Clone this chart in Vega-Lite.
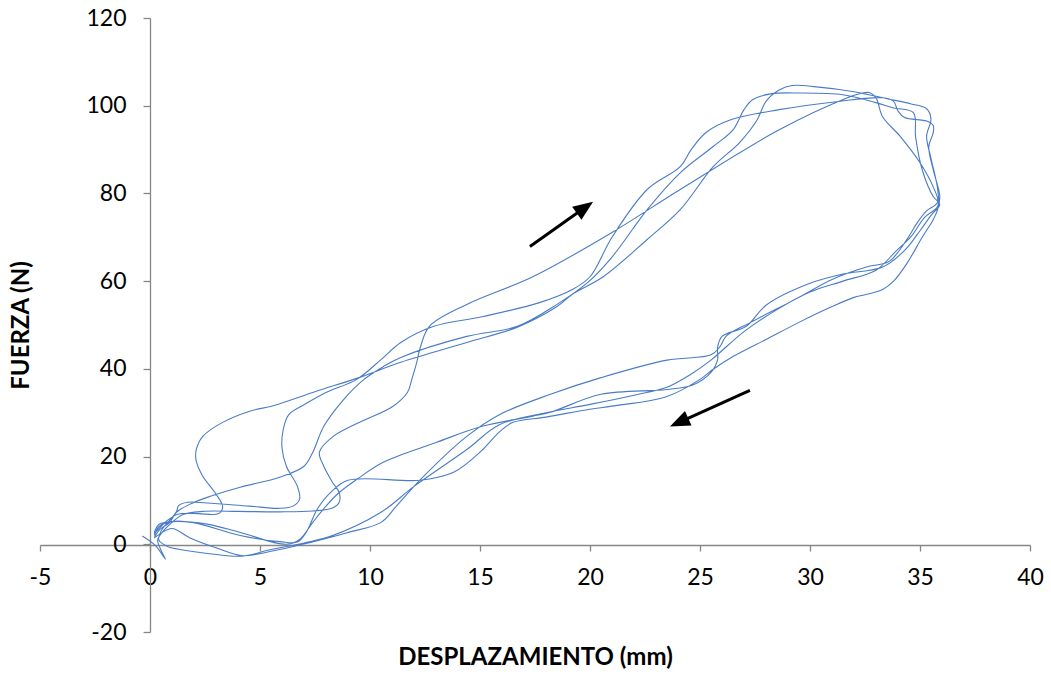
{
  "$schema": "https://vega.github.io/schema/vega-lite/v6.json",
  "width": 990,
  "height": 614,
  "autosize": {"type": "none"},
  "padding": {"left": 40, "top": 18, "right": 21, "bottom": 43},
  "background": "white",
  "config": {"view": {"stroke": null}},
  "datasets": {
    "curve": [
      {"i":1,"x":-0.35,"y":1.9},{"i":2,"x":0.25,"y":-0.3},{"i":3,"x":0.7,"y":-3.4},{"i":4,"x":0.45,"y":-0.8},{"i":5,"x":0.35,"y":1.0},
      {"i":6,"x":0.6,"y":3.0},{"i":7,"x":1.0,"y":5.0},{"i":8,"x":1.5,"y":6.8},{"i":9,"x":2.4,"y":7.5},{"i":10,"x":4.0,"y":7.5},{"i":11,"x":5.9,"y":7.4},{"i":12,"x":7.4,"y":7.6},{"i":13,"x":8.3,"y":8.3},{"i":14,"x":8.6,"y":9.6},{"i":15,"x":8.6,"y":11.8},{"i":16,"x":8.3,"y":14.1},{"i":17,"x":7.9,"y":17.8},{"i":18,"x":7.7,"y":21},{"i":19,"x":8.3,"y":24.5},{"i":20,"x":9.6,"y":28},{"i":21,"x":11.0,"y":31.3},{"i":22,"x":11.7,"y":34.6},{"i":23,"x":11.9,"y":37.6},{"i":24,"x":12.1,"y":41},{"i":25,"x":12.3,"y":45.1},{"i":26,"x":12.7,"y":49.7},{"i":27,"x":14.4,"y":54.7},{"i":28,"x":17.4,"y":61},{"i":29,"x":21,"y":71.1},{"i":30,"x":24.1,"y":80.9},{"i":31,"x":28.6,"y":94.5},{"i":32,"x":31.7,"y":101.8},{"i":33,"x":32.3,"y":102.8},{"i":34,"x":32.7,"y":103},{"i":35,"x":33.0,"y":101.8},{"i":36,"x":33.3,"y":97.5},{"i":37,"x":34.1,"y":93},{"i":38,"x":35,"y":87},{"i":39,"x":35.6,"y":81.5},{"i":40,"x":35.8,"y":78},
      {"i":41,"x":35.3,"y":76},{"i":42,"x":34.9,"y":73.5},{"i":43,"x":34.4,"y":69.5},{"i":44,"x":33.6,"y":64.5},{"i":45,"x":32.6,"y":63.3},{"i":46,"x":31,"y":60.4},{"i":47,"x":29.5,"y":56.3},{"i":48,"x":27.3,"y":50.6},{"i":49,"x":26.2,"y":47.5},{"i":50,"x":25.9,"y":45},{"i":51,"x":25.5,"y":43.2},{"i":52,"x":23.5,"y":42},{"i":53,"x":20.5,"y":38},{"i":54,"x":18.2,"y":34.2},{"i":55,"x":15.9,"y":29.6},{"i":56,"x":14.4,"y":24.6},{"i":57,"x":12.3,"y":14.8},{"i":58,"x":11.2,"y":8.7},{"i":59,"x":10.5,"y":5},{"i":60,"x":9,"y":2.7},{"i":61,"x":7.6,"y":0.8},{"i":62,"x":6.6,"y":-0.4},{"i":63,"x":5.5,"y":-1.6},{"i":64,"x":4.2,"y":-2.6},{"i":65,"x":3,"y":-0.8},{"i":66,"x":1.8,"y":1.5},{"i":67,"x":1.0,"y":3.6},{"i":68,"x":0.4,"y":2.2},
      {"i":69,"x":0.2,"y":1.5},{"i":70,"x":0.45,"y":3.4},{"i":71,"x":0.9,"y":5},{"i":72,"x":1.2,"y":7.3},{"i":73,"x":1.8,"y":9.1},{"i":74,"x":2.6,"y":10.7},{"i":75,"x":4.1,"y":13},{"i":76,"x":5.9,"y":15.3},{"i":77,"x":7.0,"y":17.8},{"i":78,"x":7.4,"y":21},{"i":79,"x":7.9,"y":26.9},{"i":80,"x":8.8,"y":33},{"i":81,"x":9.7,"y":37.5},{"i":82,"x":10.6,"y":40.5},{"i":83,"x":11.4,"y":42.6},{"i":84,"x":14.4,"y":47.4},{"i":85,"x":16.7,"y":49.7},{"i":86,"x":18.5,"y":54.7},{"i":87,"x":19.9,"y":59.7},{"i":88,"x":21,"y":65.5},{"i":89,"x":22.6,"y":76.3},{"i":90,"x":24.1,"y":84.7},{"i":91,"x":25.6,"y":90.7},{"i":92,"x":26.5,"y":94.5},{"i":93,"x":27,"y":99.1},{"i":94,"x":27.4,"y":101.4},{"i":95,"x":28.2,"y":102.7},{"i":96,"x":29.5,"y":102.9},{"i":97,"x":31.5,"y":102.5},{"i":98,"x":33,"y":100.7},{"i":99,"x":33.8,"y":99.5},{"i":100,"x":34.7,"y":98.4},{"i":101,"x":34.8,"y":92.9},{"i":102,"x":35.1,"y":85.4},{"i":103,"x":35.6,"y":79.3},{"i":104,"x":35.9,"y":77.5},
      {"i":105,"x":35.5,"y":75},{"i":106,"x":35,"y":71.5},{"i":107,"x":34.3,"y":67},{"i":108,"x":33.3,"y":63.2},{"i":109,"x":31.5,"y":61.6},{"i":110,"x":30,"y":59.5},{"i":111,"x":28,"y":54.5},{"i":112,"x":27.1,"y":49.7},{"i":113,"x":26,"y":47.4},{"i":114,"x":25.8,"y":44.9},{"i":115,"x":25.8,"y":42.1},{"i":116,"x":25.5,"y":39.2},{"i":117,"x":24.7,"y":36.4},{"i":118,"x":23.5,"y":35.3},{"i":119,"x":20.5,"y":34.2},{"i":120,"x":18.2,"y":30.1},{"i":121,"x":17.4,"y":29.2},{"i":122,"x":15.1,"y":26.9},{"i":123,"x":13,"y":23.2},{"i":124,"x":10.6,"y":18.7},{"i":125,"x":9.4,"y":14.8},{"i":126,"x":8.6,"y":11.8},{"i":127,"x":8,"y":8.7},{"i":128,"x":7.4,"y":5},{"i":129,"x":6.8,"y":1.1},{"i":130,"x":6.2,"y":0},{"i":131,"x":4.1,"y":2.7},{"i":132,"x":2.6,"y":4.6},{"i":133,"x":1.0,"y":5.2},{"i":134,"x":0.4,"y":4.5},{"i":135,"x":0.2,"y":2.5},
      {"i":136,"x":0.45,"y":3.8},{"i":137,"x":0.8,"y":5.5},{"i":138,"x":1.3,"y":6.9},{"i":139,"x":2.2,"y":7.0},{"i":140,"x":2.9,"y":6.8},{"i":141,"x":3.2,"y":7.3},{"i":142,"x":3.3,"y":8.7},{"i":143,"x":2.95,"y":11.8},{"i":144,"x":2.4,"y":15.5},{"i":145,"x":2.1,"y":19},{"i":146,"x":2.1,"y":21.5},{"i":147,"x":2.4,"y":24.6},{"i":148,"x":3.3,"y":27.8},{"i":149,"x":4.5,"y":30.3},{"i":150,"x":5.6,"y":31.6},{"i":151,"x":7.5,"y":34.8},{"i":152,"x":9.5,"y":38},{"i":153,"x":11.4,"y":41.5},{"i":154,"x":14.4,"y":46},{"i":155,"x":16.7,"y":49.5},{"i":156,"x":18.5,"y":54.2},{"i":157,"x":19.2,"y":57},{"i":158,"x":20.6,"y":61},{"i":159,"x":22.6,"y":69.5},{"i":160,"x":24.1,"y":76.3},{"i":161,"x":25.6,"y":86.1},{"i":162,"x":26.8,"y":91.6},{"i":163,"x":27.6,"y":96.8},{"i":164,"x":28.0,"y":101},{"i":165,"x":28.6,"y":103.6},{"i":166,"x":29.2,"y":104.6},{"i":167,"x":30.3,"y":104.3},{"i":168,"x":32,"y":103.2},{"i":169,"x":33.5,"y":101.6},{"i":170,"x":34.6,"y":100.4},{"i":171,"x":35.3,"y":99.3},{"i":172,"x":35.5,"y":97},{"i":173,"x":35.3,"y":93},{"i":174,"x":35.5,"y":88},{"i":175,"x":35.8,"y":81},{"i":176,"x":35.8,"y":77},
      {"i":177,"x":35.2,"y":74.5},{"i":178,"x":34.6,"y":70.2},{"i":179,"x":33.9,"y":66.8},{"i":180,"x":33,"y":62.5},{"i":181,"x":31.5,"y":60},{"i":182,"x":30,"y":57.5},{"i":183,"x":28.5,"y":53.5},{"i":184,"x":27,"y":48.5},{"i":185,"x":25.5,"y":42},{"i":186,"x":24.5,"y":38.5},{"i":187,"x":23.5,"y":35.8},{"i":188,"x":22,"y":34},{"i":189,"x":20,"y":31.9},{"i":190,"x":18,"y":30},{"i":191,"x":15.9,"y":27.3},{"i":192,"x":14.4,"y":21.6},{"i":193,"x":12,"y":13.2},{"i":194,"x":10.5,"y":7.3},{"i":195,"x":8.2,"y":1.8},{"i":196,"x":7,"y":0.3},{"i":197,"x":5.5,"y":-1.2},{"i":198,"x":4.2,"y":-2.7},{"i":199,"x":2.8,"y":-2.2},{"i":200,"x":1.5,"y":-1.3},{"i":201,"x":0.8,"y":-0.5},{"i":202,"x":0.4,"y":1},
      {"i":203,"x":0.5,"y":3},{"i":204,"x":0.9,"y":5.5},{"i":205,"x":1.2,"y":7.4},{"i":206,"x":1.3,"y":8.8},{"i":207,"x":1.7,"y":9.6},{"i":208,"x":2.6,"y":9.4},{"i":209,"x":4.5,"y":8.7},{"i":210,"x":5.9,"y":8.2},{"i":211,"x":6.5,"y":8.7},{"i":212,"x":6.8,"y":10.3},{"i":213,"x":6.7,"y":13.2},{"i":214,"x":6.2,"y":17.8},{"i":215,"x":6.0,"y":22},{"i":216,"x":6.05,"y":26},{"i":217,"x":6.3,"y":29.5},{"i":218,"x":7.0,"y":31.8},{"i":219,"x":8.0,"y":34.6},{"i":220,"x":9.4,"y":37.6},{"i":221,"x":10.5,"y":42.1},{"i":222,"x":11.4,"y":46},{"i":223,"x":12.9,"y":49.7},{"i":224,"x":15.1,"y":51.9},{"i":225,"x":17.7,"y":55.1},{"i":226,"x":19.2,"y":58.1},{"i":227,"x":20,"y":61},{"i":228,"x":21,"y":70},{"i":229,"x":22.6,"y":80.9},{"i":230,"x":24.1,"y":86.1},{"i":231,"x":24.6,"y":90},{"i":232,"x":25.3,"y":94},{"i":233,"x":26.4,"y":96.8},{"i":234,"x":28.6,"y":99.1},{"i":235,"x":31,"y":100.8},{"i":236,"x":33.3,"y":101.8},{"i":237,"x":33.8,"y":101},{"i":238,"x":34.0,"y":98.8},{"i":239,"x":34.3,"y":97.3},{"i":240,"x":35.3,"y":96.5},{"i":241,"x":35.6,"y":95.5},{"i":242,"x":35.6,"y":93.8},{"i":243,"x":35.4,"y":90.7},{"i":244,"x":35.6,"y":85.4},{"i":245,"x":35.9,"y":79.3},{"i":246,"x":35.8,"y":76.3},
      {"i":247,"x":35.6,"y":74},{"i":248,"x":35.1,"y":70},{"i":249,"x":34.4,"y":64},{"i":250,"x":33.8,"y":60},{"i":251,"x":33.3,"y":58.1},{"i":252,"x":32.5,"y":56.9},{"i":253,"x":32,"y":56.3},{"i":254,"x":31,"y":54.2},{"i":255,"x":29.5,"y":50.6},{"i":256,"x":28,"y":46.7},{"i":257,"x":26.5,"y":42.8},{"i":258,"x":25.6,"y":39.9},{"i":259,"x":25,"y":37.6},{"i":260,"x":23.5,"y":33.7},{"i":261,"x":21,"y":31.5},{"i":262,"x":20,"y":30.8},{"i":263,"x":18,"y":29},{"i":264,"x":16.5,"y":27.8},{"i":265,"x":15.9,"y":25.7},{"i":266,"x":15,"y":21},{"i":267,"x":13.8,"y":16.4},{"i":268,"x":12.3,"y":14.6},{"i":269,"x":9,"y":14.6},{"i":270,"x":8.2,"y":11.8},{"i":271,"x":7.6,"y":8},{"i":272,"x":7.1,"y":2.7},{"i":273,"x":6.7,"y":0.5},{"i":274,"x":5.9,"y":0.6},{"i":275,"x":4.1,"y":2.0},{"i":276,"x":1.9,"y":5},{"i":277,"x":0.8,"y":5},{"i":278,"x":0.4,"y":4},{"i":279,"x":0.2,"y":2}
    ],
    "arrows": [
      {"id": 1, "x": 17.27, "y": 67.9, "x2": 19.77, "y2": 76.8},
      {"id": 2, "x": 27.27, "y": 35.1, "x2": 24.05, "y2": 27.8}
    ]
  },
  "layer": [
    {
      "data": {"name": "curve"},
      "mark": {"type": "line", "interpolate": "catmull-rom", "color": "#4a7cc6", "strokeWidth": 1.1},
      "encoding": {
        "x": {
          "field": "x", "type": "quantitative",
          "scale": {"domain": [-5, 40], "nice": false, "zero": false},
          "axis": {
            "values": [-5, 0, 5, 10, 15, 20, 25, 30, 35, 40],
            "labelExpr": "'' + datum.value",
            "grid": false, "offset": -87,
            "domainColor": "#868686", "domainWidth": 1.3,
            "tickColor": "#868686", "tickWidth": 1.3, "tickSize": 6,
            "labelFont": "Lato", "labelFontSize": 23, "labelColor": "#000000", "labelPadding": 15,
            "labelFlush": false, "labelOverlap": false,
            "title": "DESPLAZAMIENTO (mm)", "titleFont": "Lato", "titleFontSize": 24, "titleFontWeight": "bold",
            "titleColor": "#000000", "titleBaseline": "middle", "titleY": 112
          }
        },
        "y": {
          "field": "y", "type": "quantitative",
          "scale": {"domain": [-20, 120], "nice": false, "zero": false},
          "axis": {
            "values": [-20, 0, 20, 40, 60, 80, 100, 120],
            "labelExpr": "'' + datum.value",
            "grid": false, "offset": -110,
            "domainColor": "#868686", "domainWidth": 1.3,
            "tickColor": "#868686", "tickWidth": 1.3, "tickSize": 7,
            "labelFont": "Lato", "labelFontSize": 23, "labelColor": "#000000", "labelPadding": 17,
            "labelFlush": false, "labelOverlap": false,
            "title": "FUERZA (N)", "titleFont": "Lato", "titleFontSize": 24, "titleFontWeight": "bold",
            "titleColor": "#000000", "titleBaseline": "middle", "titleX": -129, "titleY": 307
          }
        },
        "order": {"field": "i", "type": "quantitative"}
      }
    },
    {
      "data": {"name": "arrows"},
      "mark": {"type": "rule", "color": "#000000", "strokeWidth": 3},
      "encoding": {
        "x": {"field": "x", "type": "quantitative"},
        "y": {"field": "y", "type": "quantitative"},
        "x2": {"field": "x2"},
        "y2": {"field": "y2"}
      }
    },
    {
      "data": {"name": "arrows"},
      "transform": [{"filter": "datum.id == 1"}],
      "mark": {"type": "point", "shape": "M0,-1L0.8,1L-0.8,1Z", "filled": true, "color": "#000000", "opacity": 1, "size": 400, "angle": 54.5},
      "encoding": {
        "x": {"field": "x2", "type": "quantitative"},
        "y": {"field": "y2", "type": "quantitative"}
      }
    },
    {
      "data": {"name": "arrows"},
      "transform": [{"filter": "datum.id == 2"}],
      "mark": {"type": "point", "shape": "M0,-1L0.8,1L-0.8,1Z", "filled": true, "color": "#000000", "opacity": 1, "size": 400, "angle": 245.8},
      "encoding": {
        "x": {"field": "x2", "type": "quantitative"},
        "y": {"field": "y2", "type": "quantitative"}
      }
    }
  ]
}
